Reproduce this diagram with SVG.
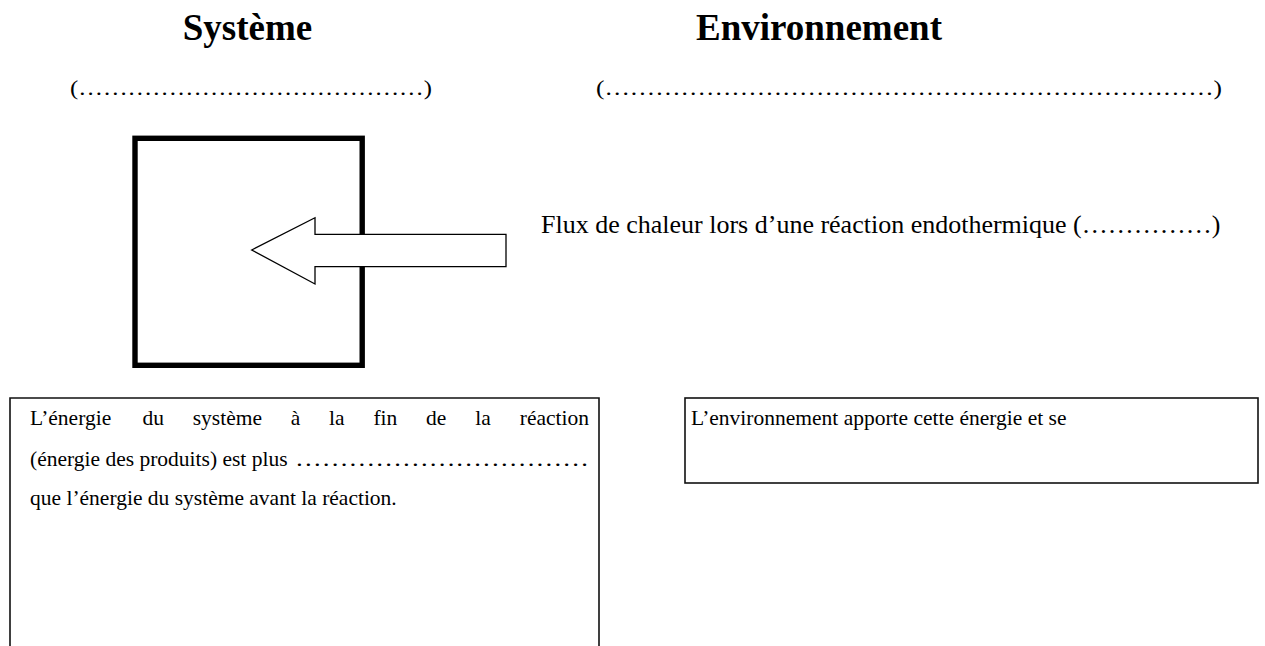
<svg xmlns="http://www.w3.org/2000/svg" width="1265" height="646" viewBox="0 0 1265 646">
<style>
.t{font-family:"Liberation Serif","Times New Roman",serif;fill:#000}
.title{font-size:37px;font-weight:bold}
.dots{font-size:22px}
.body{font-size:21.5px}
.flux{font-size:26px}
.box{fill:#fff;stroke:#111;stroke-width:1.6}
</style>
<rect width="1265" height="646" fill="#fff"/>
<g id="title-systeme"><text class="t title" x="247.5" y="40" text-anchor="middle">Système</text></g>
<g id="title-environnement"><text class="t title" x="819" y="40" text-anchor="middle">Environnement</text></g>
<g id="blank-systeme"><text class="t dots" x="70" y="95" textLength="362" lengthAdjust="spacingAndGlyphs">(……………………………………)</text></g>
<g id="blank-environnement"><text class="t dots" x="596" y="95" textLength="626" lengthAdjust="spacingAndGlyphs">(………………………………………………………………)</text></g>
<g id="systeme-box"><rect x="135" y="138.3" width="227.2" height="227" fill="#fff" stroke="#000" stroke-width="5.4"/></g>
<g id="connectors">
<path d="M251.7,250 L315,217.7 L315,234.3 L506,234.3 L506,266.7 L315,266.7 L315,284 Z" fill="#fff" stroke="#000" stroke-width="1.3" stroke-linejoin="miter"/>
</g>
<g id="flux-label"><text class="t flux" x="541" y="233">Flux de chaleur lors d’une réaction endothermique (……………)</text></g>
<g id="box-systeme-energie">
<path class="box" d="M10,650 L10,398 L599,398 L599,650"/>
<text class="t body" y="425"><tspan x="30">L’énergie</tspan><tspan x="142.4">du</tspan><tspan x="192.7">système</tspan><tspan x="290.8">à</tspan><tspan x="329.1">la</tspan><tspan x="373.4">fin</tspan><tspan x="426.1">de</tspan><tspan x="475.2">la</tspan><tspan x="589" text-anchor="end">réaction</tspan></text>
<text class="t body" x="30" y="466">(énergie des produits) est plus</text>
<text class="t body" x="295" y="466" textLength="294" lengthAdjust="spacingAndGlyphs">……………………………</text>
<text class="t body" x="30" y="505">que l’énergie du système avant la réaction.</text>
</g>
<g id="box-environnement">
<rect class="box" x="685" y="398" width="573" height="85"/>
<text class="t body" x="691" y="425">L’environnement apporte cette énergie et se</text>
</g>
</svg>
